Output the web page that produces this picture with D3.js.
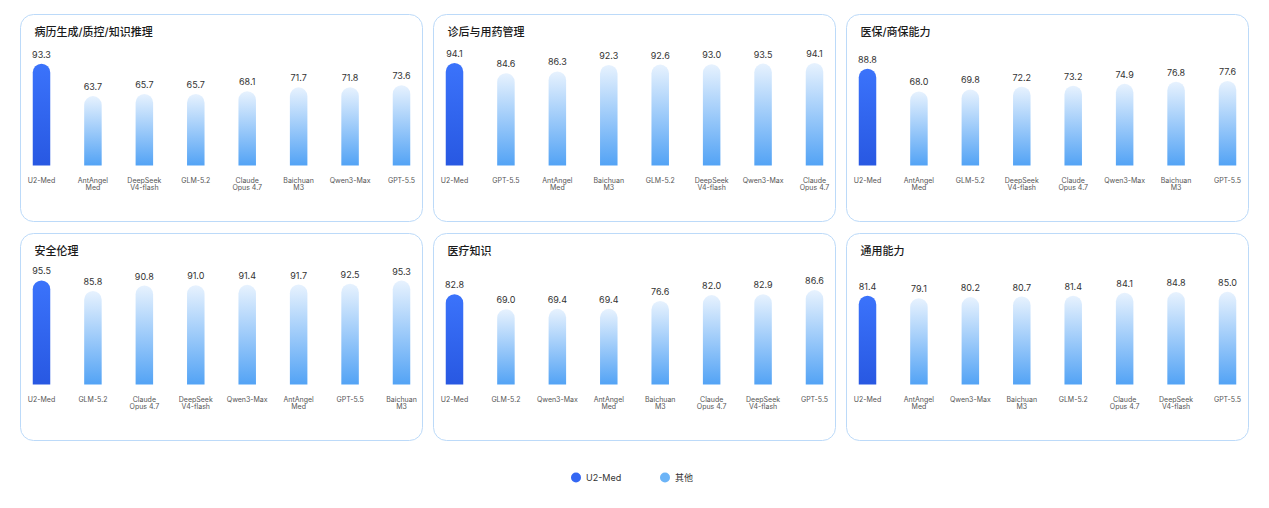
<!DOCTYPE html>
<html>
<head>
<meta charset="utf-8">
<script src="https://cdn.jsdelivr.net/npm/d3@7"></script>
<style>
  body { margin: 0; background: #fff; }
  svg { display: block; font-family: Inter, "Noto Sans CJK SC", sans-serif; }
</style>
</head>
<body>
<svg width="1269" height="508"></svg>
<script>
// chart values
var titles = ['病历生成/质控/知识推理', '诊后与用药管理', '医保/商保能力', '安全伦理', '医疗知识', '通用能力'];

var models1 = ['U2-Med', 'AntAngel Med', 'DeepSeek V4-flash', 'GLM-5.2', 'Claude Opus 4.7', 'Baichuan M3', 'Qwen3-Max', 'GPT-5.5'];
var scores1 = [93.3, 63.7, 65.7, 65.7, 68.1, 71.7, 71.8, 73.6];

var models2 = ['U2-Med', 'GPT-5.5', 'AntAngel Med', 'Baichuan M3', 'GLM-5.2', 'DeepSeek V4-flash', 'Qwen3-Max', 'Claude Opus 4.7'];
var scores2 = [94.1, 84.6, 86.3, 92.3, 92.6, 93.0, 93.5, 94.1];

var models3 = ['U2-Med', 'AntAngel Med', 'GLM-5.2', 'DeepSeek V4-flash', 'Claude Opus 4.7', 'Qwen3-Max', 'Baichuan M3', 'GPT-5.5'];
var scores3 = [88.8, 68.0, 69.8, 72.2, 73.2, 74.9, 76.8, 77.6];

var models4 = ['U2-Med', 'GLM-5.2', 'Claude Opus 4.7', 'DeepSeek V4-flash', 'Qwen3-Max', 'AntAngel Med', 'GPT-5.5', 'Baichuan M3'];
var scores4 = [95.5, 85.8, 90.8, 91.0, 91.4, 91.7, 92.5, 95.3];

var models5 = ['U2-Med', 'GLM-5.2', 'Qwen3-Max', 'AntAngel Med', 'Baichuan M3', 'Claude Opus 4.7', 'DeepSeek V4-flash', 'GPT-5.5'];
var scores5 = [82.8, 69.0, 69.4, 69.4, 76.6, 82.0, 82.9, 86.6];

var models6 = ['U2-Med', 'AntAngel Med', 'Qwen3-Max', 'Baichuan M3', 'GLM-5.2', 'Claude Opus 4.7', 'DeepSeek V4-flash', 'GPT-5.5'];
var scores6 = [81.4, 79.1, 80.2, 80.7, 81.4, 84.1, 84.8, 85.0];

var legendLabels = ['U2-Med', '其他'];

var allModels = [models1, models2, models3, models4, models5, models6];
var allScores = [scores1, scores2, scores3, scores4, scores5, scores6];

// layout
var svg = d3.select('svg');
var panelW = 402, panelH = 207;
var colX = [20.5, 433.5, 846.5];
var rowY = [14.5, 233.5];
var baseY = 151;     // baseline inside panel
var barW = 17.5;

var defs = svg.append('defs');
function grad(id, top, bottom) {
  var g = defs.append('linearGradient').attr('id', id)
    .attr('x1', 0).attr('y1', 0).attr('x2', 0).attr('y2', 1);
  g.append('stop').attr('offset', '0%').attr('stop-color', top);
  g.append('stop').attr('offset', '100%').attr('stop-color', bottom);
}
grad('gMain', '#3b73fb', '#2858e2');
grad('gOther', '#e7f2fe', '#53a3f5');

var x = d3.scalePoint().domain(d3.range(8)).range([21, 381]);
var y = d3.scaleLinear().domain([0, 100]).range([baseY, baseY - 109]);

function barPath(cx, v) {
  var x0 = cx - barW / 2, r = barW / 2, top = y(v);
  return 'M' + x0 + ',' + baseY + 'V' + (top + r) +
    'A' + r + ',' + r + ' 0 0 1 ' + (x0 + barW) + ',' + (top + r) +
    'V' + baseY + 'Z';
}

titles.forEach(function(t, p) {
  var g = svg.append('g')
    .attr('transform', 'translate(' + colX[p % 3] + ',' + rowY[Math.floor(p / 3)] + ')');

  g.append('rect')
    .attr('width', panelW).attr('height', panelH)
    .attr('rx', 13).attr('ry', 13)
    .attr('fill', '#fff')
    .attr('stroke', '#bcdaf9').attr('stroke-width', 1);

  g.append('text')
    .attr('x', 14).attr('y', 21)
    .style('font-size', '11px').style('font-weight', 500)
    .attr('fill', '#1a1a1a')
    .text(t);

  var scores = allScores[p], models = allModels[p];

  g.selectAll('.bar').data(scores).enter()
    .append('path')
    .attr('class', 'bar')
    .attr('d', function(d, i) { return barPath(x(i), d); })
    .attr('fill', function(d, i) { return i === 0 ? 'url(#gMain)' : 'url(#gOther)'; });

  g.selectAll('.val').data(scores).enter()
    .append('text')
    .attr('class', 'val')
    .attr('x', function(d, i) { return x(i); })
    .attr('y', function(d) { return y(d) - 6; })
    .attr('text-anchor', 'middle')
    .style('font-size', '9px')
    .attr('fill', '#333')
    .text(function(d) { return d.toFixed(1); });

  // model names, wrapped to two lines where the chart wraps them
  var lab = g.selectAll('.lab').data(models).enter()
    .append('text')
    .attr('class', 'lab')
    .attr('text-anchor', 'middle')
    .style('font-size', '7px')
    .attr('fill', '#555');
  lab.each(function(d, i) {
    var lines;
    var k = d.lastIndexOf(' ');
    if (d === 'Qwen3-Max' || d.indexOf(' ') < 0) lines = [d];
    else if (d.indexOf('Claude') === 0) lines = ['Claude', 'Opus 4.7'];
    else if (d.indexOf('DeepSeek') === 0) lines = ['DeepSeek', 'V4-flash'];
    else lines = [d.slice(0, k), d.slice(k + 1)];
    d3.select(this).selectAll('tspan').data(lines).enter()
      .append('tspan')
      .attr('x', x(i))
      .attr('y', function(l, j) { return baseY + 17.5 + j * 7; })
      .text(function(l) { return l; });
  });
});

// legend
var legend = svg.append('g');
var legendColors = ['#3467f3', '#6cb4f7'];
var legendX = [576, 665];
legendLabels.forEach(function(l, i) {
  legend.append('circle')
    .attr('cx', legendX[i]).attr('cy', 477.5).attr('r', 5)
    .attr('fill', legendColors[i]);
  legend.append('text')
    .attr('x', legendX[i] + 10).attr('y', 480.5)
    .style('font-size', '9px')
    .attr('fill', '#333')
    .text(l);
});
</script>
</body>
</html>
